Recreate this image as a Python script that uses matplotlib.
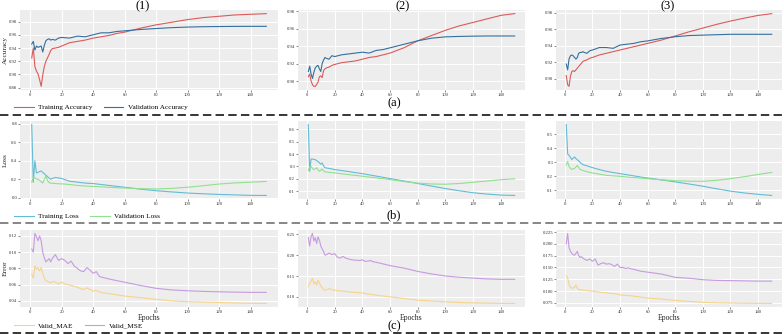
import matplotlib
matplotlib.use("Agg")
import matplotlib.pyplot as plt
from matplotlib.lines import Line2D
from matplotlib.ticker import MultipleLocator

plt.rcParams['font.family'] = ['Liberation Serif', 'DejaVu Serif']

# ---------------- data ----------------
# epoch grid for accuracy / loss curves
ep_a = [1, 2, 3, 4, 5, 6, 7, 8, 9, 10, 11, 12, 13, 14, 16, 18, 20, 25, 30, 35, 40, 45,
        50, 55, 60, 70, 80, 90, 100, 110, 120, 130, 140, 150]
# epoch grid for error curves
ep_e = [1, 2, 3, 4, 5, 6, 7, 8, 9, 10, 11, 12, 13, 14, 16, 18, 20, 22, 24, 26, 28, 30,
        32, 34, 36, 38, 40, 42, 44, 46, 48, 50, 55, 60, 70, 80, 90, 100, 110, 120, 130, 140, 150]

train_acc_1 = [0.925, 0.940, 0.912, 0.905, 0.901, 0.892, 0.882, 0.899, 0.912, 0.920, 0.925, 0.930,
               0.936, 0.939, 0.940, 0.941, 0.943, 0.948, 0.950, 0.952, 0.955, 0.957, 0.959, 0.962,
               0.964, 0.970, 0.975, 0.979, 0.983, 0.986, 0.988, 0.990, 0.991, 0.992]
val_acc_1 = [0.946, 0.950, 0.937, 0.943, 0.941, 0.942, 0.943, 0.934, 0.944, 0.951, 0.953, 0.954,
             0.952, 0.953, 0.952, 0.955, 0.956, 0.955, 0.958, 0.957, 0.960, 0.963, 0.963, 0.965,
             0.966, 0.968, 0.9695, 0.9708, 0.9717, 0.9722, 0.9725, 0.9727, 0.9728, 0.9728]
train_acc_2 = [0.905, 0.908, 0.900, 0.896, 0.894, 0.894, 0.896, 0.899, 0.905, 0.906, 0.904, 0.912,
               0.914, 0.915, 0.916, 0.918, 0.919, 0.921, 0.922, 0.923, 0.925, 0.927, 0.928, 0.930,
               0.932, 0.938, 0.946, 0.952, 0.958, 0.963, 0.967, 0.971, 0.975, 0.977]
val_acc_2 = [0.911, 0.917, 0.908, 0.903, 0.910, 0.915, 0.917, 0.918, 0.914, 0.911, 0.920, 0.924,
             0.927, 0.926, 0.925, 0.929, 0.928, 0.930, 0.931, 0.932, 0.933, 0.932, 0.935, 0.936,
             0.938, 0.942, 0.946, 0.949, 0.9505, 0.951, 0.9513, 0.9515, 0.9515, 0.9515]
train_acc_3 = [0.904, 0.893, 0.891, 0.903, 0.909, 0.910, 0.909, 0.911, 0.913, 0.915, 0.917, 0.919,
               0.921, 0.922, 0.923, 0.925, 0.926, 0.929, 0.931, 0.933, 0.935, 0.937, 0.939, 0.941,
               0.943, 0.947, 0.952, 0.957, 0.9615, 0.966, 0.970, 0.9735, 0.9768, 0.979]
val_acc_3 = [0.918, 0.911, 0.924, 0.928, 0.929, 0.928, 0.926, 0.924, 0.926, 0.931, 0.932, 0.932,
             0.933, 0.932, 0.931, 0.934, 0.935, 0.938, 0.938, 0.937, 0.941, 0.942, 0.943, 0.945,
             0.946, 0.949, 0.951, 0.9525, 0.953, 0.9535, 0.954, 0.954, 0.954, 0.954]

train_loss_1 = [0.79, 0.17, 0.40, 0.27, 0.275, 0.285, 0.29, 0.275, 0.26, 0.245, 0.23, 0.215,
                0.20, 0.21, 0.22, 0.215, 0.21, 0.18, 0.17, 0.16, 0.155, 0.145, 0.135, 0.125,
                0.115, 0.095, 0.078, 0.065, 0.053, 0.045, 0.038, 0.033, 0.028, 0.027]
val_loss_1 = [0.17, 0.22, 0.215, 0.205, 0.20, 0.19, 0.175, 0.16, 0.20, 0.235, 0.19, 0.165,
              0.16, 0.158, 0.155, 0.153, 0.152, 0.145, 0.135, 0.128, 0.124, 0.12, 0.115, 0.11,
              0.107, 0.10, 0.097, 0.103, 0.115, 0.132, 0.15, 0.162, 0.17, 0.178]
train_loss_2 = [0.64, 0.26, 0.36, 0.36, 0.358, 0.355, 0.348, 0.34, 0.33, 0.318, 0.328, 0.305,
                0.29, 0.288, 0.284, 0.28, 0.275, 0.267, 0.259, 0.25, 0.242, 0.232, 0.222, 0.212,
                0.202, 0.182, 0.162, 0.141, 0.121, 0.103, 0.087, 0.076, 0.068, 0.065]
val_loss_2 = [0.27, 0.295, 0.30, 0.285, 0.275, 0.28, 0.29, 0.275, 0.26, 0.27, 0.28, 0.265,
              0.256, 0.255, 0.252, 0.25, 0.248, 0.241, 0.234, 0.228, 0.221, 0.214, 0.208, 0.201,
              0.194, 0.178, 0.165, 0.158, 0.156, 0.162, 0.172, 0.182, 0.193, 0.20]
train_loss_3 = [0.57, 0.36, 0.35, 0.335, 0.32, 0.33, 0.338, 0.326, 0.318, 0.31, 0.30, 0.29,
                0.285, 0.28, 0.275, 0.268, 0.262, 0.248, 0.236, 0.227, 0.219, 0.211, 0.203, 0.195,
                0.188, 0.174, 0.16, 0.145, 0.129, 0.111, 0.094, 0.081, 0.071, 0.063]
val_loss_3 = [0.28, 0.305, 0.27, 0.258, 0.25, 0.252, 0.256, 0.266, 0.278, 0.262, 0.25, 0.245,
              0.242, 0.239, 0.233, 0.228, 0.224, 0.215, 0.207, 0.203, 0.20, 0.195, 0.191, 0.187,
              0.183, 0.175, 0.168, 0.165, 0.164, 0.171, 0.183, 0.197, 0.213, 0.228]

mae_1 = [0.073, 0.068, 0.083, 0.079, 0.081, 0.077, 0.081, 0.074, 0.068, 0.065, 0.064, 0.063,
         0.062, 0.064, 0.063, 0.061, 0.063, 0.061, 0.060, 0.059, 0.058, 0.057, 0.055, 0.054,
         0.056, 0.054, 0.052, 0.053, 0.051, 0.050, 0.0495, 0.049, 0.0475, 0.046, 0.044, 0.042,
         0.040, 0.039, 0.0385, 0.038, 0.0375, 0.037, 0.0368]
mse_1 = [0.104, 0.100, 0.123, 0.119, 0.114, 0.120, 0.114, 0.100, 0.093, 0.088, 0.090, 0.092,
         0.088, 0.092, 0.097, 0.090, 0.092, 0.090, 0.086, 0.089, 0.083, 0.080, 0.077, 0.076,
         0.081, 0.078, 0.074, 0.076, 0.070, 0.069, 0.068, 0.067, 0.065, 0.063, 0.059, 0.0555,
         0.0535, 0.0525, 0.0517, 0.0512, 0.0508, 0.0505, 0.0505]
mae_2 = [0.124, 0.132, 0.138, 0.144, 0.131, 0.136, 0.128, 0.140, 0.133, 0.126, 0.122, 0.118,
         0.116, 0.117, 0.120, 0.117, 0.116, 0.115, 0.114, 0.114, 0.113, 0.112, 0.111, 0.111,
         0.110, 0.110, 0.1095, 0.108, 0.107, 0.106, 0.105, 0.104, 0.102, 0.100, 0.096, 0.092,
         0.090, 0.088, 0.0865, 0.0855, 0.085, 0.0842, 0.084]
mse_2 = [0.242, 0.222, 0.245, 0.252, 0.234, 0.242, 0.228, 0.244, 0.236, 0.222, 0.215, 0.209,
         0.200, 0.201, 0.205, 0.201, 0.204, 0.195, 0.193, 0.197, 0.193, 0.191, 0.189, 0.188,
         0.188, 0.187, 0.189, 0.185, 0.186, 0.187, 0.184, 0.183, 0.179, 0.175, 0.169, 0.161,
         0.155, 0.150, 0.147, 0.145, 0.143, 0.142, 0.142]
mae_3 = [0.132, 0.128, 0.113, 0.108, 0.106, 0.106, 0.108, 0.113, 0.106, 0.103, 0.103, 0.102,
         0.102, 0.101, 0.101, 0.100, 0.100, 0.099, 0.098, 0.097, 0.097, 0.096, 0.095, 0.095,
         0.094, 0.093, 0.092, 0.091, 0.091, 0.090, 0.090, 0.089, 0.087, 0.085, 0.083, 0.080,
         0.078, 0.076, 0.075, 0.0745, 0.074, 0.0738, 0.0735]
mse_3 = [0.200, 0.222, 0.192, 0.184, 0.180, 0.177, 0.176, 0.180, 0.184, 0.175, 0.171, 0.173,
         0.170, 0.168, 0.165, 0.168, 0.163, 0.168, 0.155, 0.158, 0.160, 0.157, 0.158, 0.156,
         0.152, 0.157, 0.150, 0.150, 0.148, 0.149, 0.147, 0.146, 0.142, 0.140, 0.136, 0.129,
         0.127, 0.124, 0.1225, 0.122, 0.1215, 0.121, 0.121]

col_titles = ["(1)", "(2)", "(3)"]
row_tags = ["(a)", "(b)", "(c)"]
row_ylabels = ["Accuracy", "Loss", "Error"]
legend_labels = [["Training Accuracy", "Validation Accuracy"],
                 ["Training Loss", "Validation Loss"],
                 ["Valid_MAE", "Valid_MSE"]]

# ---------------- style / layout ----------------
W, H = 784, 334
colors = [["#dc5a5a", "#33709f"], ["#62bcd6", "#8fe08f"], ["#f6d48c", "#c69be0"]]
cols_px = [(20, 278), (298, 525), (556, 782)]
rows_px = [(10, 90), (121, 199), (230, 307)]
ystep = [[0.02, 0.02, 0.02], [0.2, 0.1, 0.1], [0.02, 0.05, 0.025]]

series = [
    [(ep_a, train_acc_1, val_acc_1), (ep_a, train_acc_2, val_acc_2), (ep_a, train_acc_3, val_acc_3)],
    [(ep_a, train_loss_1, val_loss_1), (ep_a, train_loss_2, val_loss_2), (ep_a, train_loss_3, val_loss_3)],
    [(ep_e, mae_1, mse_1), (ep_e, mae_2, mse_2), (ep_e, mae_3, mse_3)],
]

fig = plt.figure(figsize=(W / 100, H / 100), dpi=100)
fig.patch.set_facecolor("white")

def box(x0, x1, y0, y1):
    return [x0 / W, 1 - y1 / H, (x1 - x0) / W, (y1 - y0) / H]

for r in range(3):
    for c in range(3):
        ax = fig.add_axes(box(*cols_px[c], *rows_px[r]))
        ax.set_facecolor("#ededed")
        x, s1, s2 = series[r][c]
        ax.plot(x, s1, color=colors[r][0], lw=0.8, label=legend_labels[r][0])
        ax.plot(x, s2, color=colors[r][1], lw=0.8, label=legend_labels[r][1])
        ax.xaxis.set_major_locator(MultipleLocator(20))
        ax.yaxis.set_major_locator(MultipleLocator(ystep[r][c]))
        ax.grid(True, color="white", lw=0.7)
        ax.set_axisbelow(True)
        for sp in ax.spines.values():
            sp.set_visible(False)
        ax.tick_params(labelsize=3.4, length=1.2, width=0.4, pad=0.8, colors="#333333")
        if c == 0:
            ax.set_ylabel(row_ylabels[r], fontsize=5.2, color="#222222")
            ax.yaxis.set_label_coords(-12.3 / (cols_px[0][1] - cols_px[0][0]), 0.5)
        if r == 2:
            ax.set_xlabel("Epochs", fontsize=5.5, labelpad=0.5, color="#222222")
        if c == 0:
            leg = fig.legend(handles=ax.get_lines(), loc="center left",
                             bbox_to_anchor=(14 / W, 1 - [107, 216, 325][r] / H),
                             ncol=2, frameon=False, fontsize=5.2, handlelength=2.7,
                             handletextpad=0.6, columnspacing=1.6, borderpad=0,
                             borderaxespad=0)

for i, t in enumerate(col_titles):
    fig.text([143, 403, 668][i] / W, 1 - 6 / H, t, fontsize=9, ha="center", va="center")
for i, t in enumerate(row_tags):
    fig.text(394 / W, 1 - [103, 215, 326][i] / H, t, fontsize=9, ha="center", va="center")

for ypx, col in [(115, "black"), (223, "#666666"), (332.5, "black")]:
    fig.add_artist(Line2D([0, 1], [1 - ypx / H] * 2, transform=fig.transFigure,
                          color=col, lw=1.1, linestyle=(0, (5.5, 2.8))))

fig.savefig("out.png", dpi=100)
